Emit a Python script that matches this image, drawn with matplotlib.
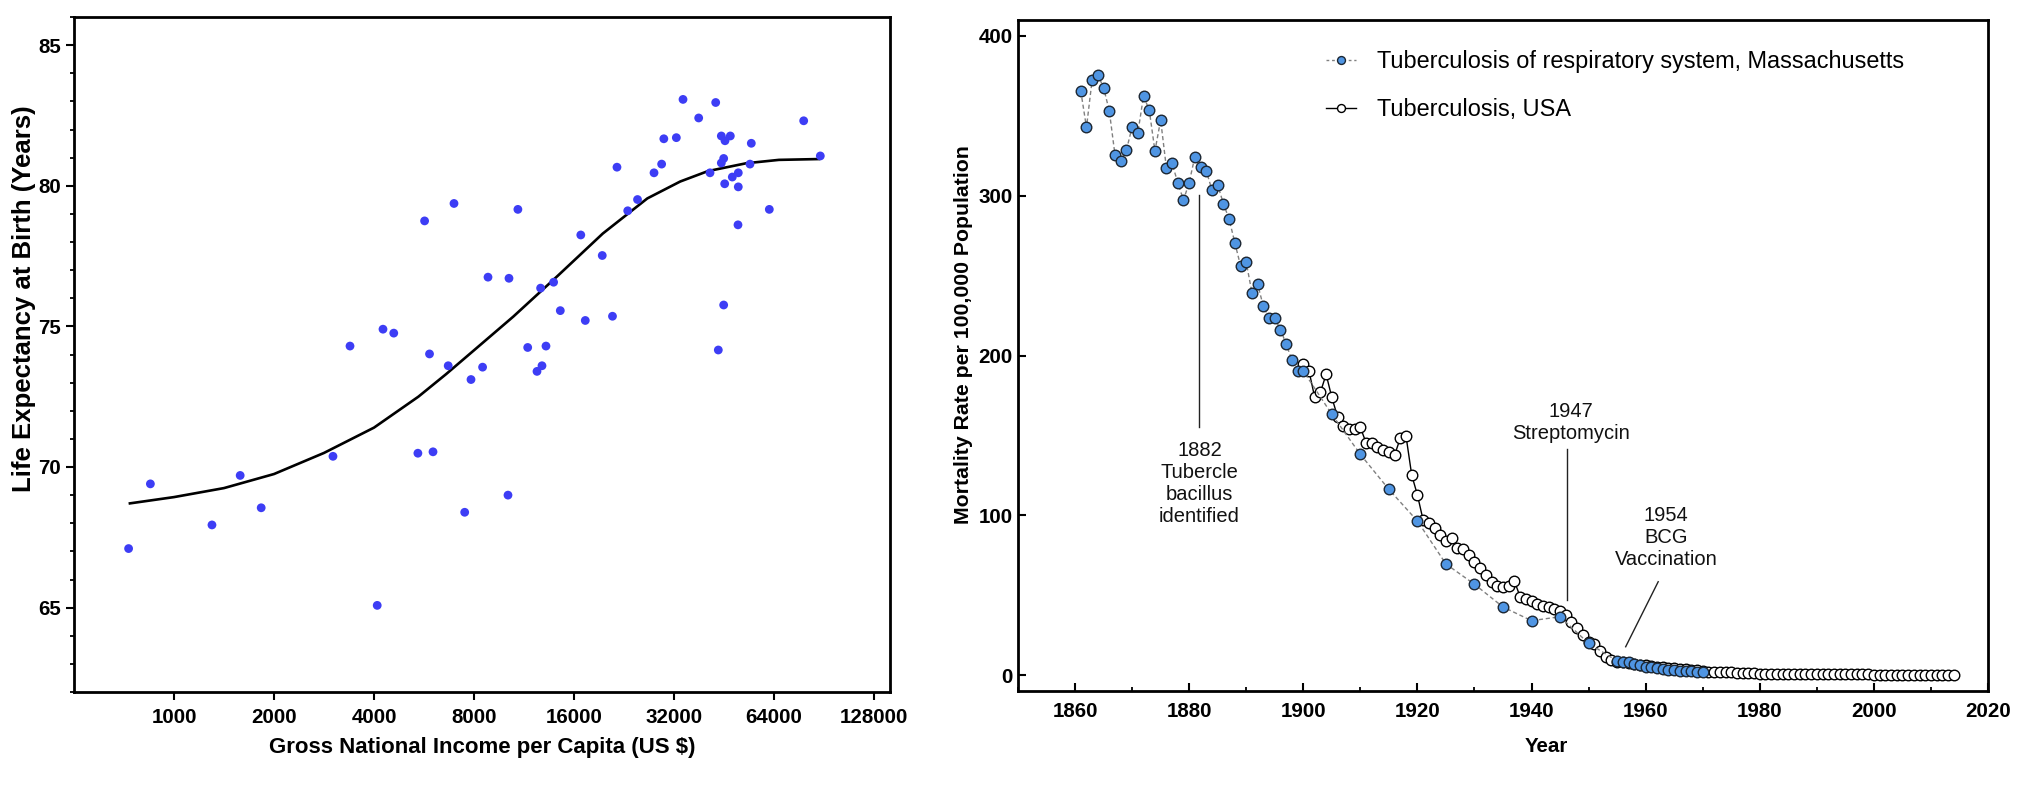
import matplotlib
matplotlib.use("Agg")
import matplotlib.pyplot as plt
from matplotlib.ticker import FixedLocator, MultipleLocator, NullLocator
from matplotlib.lines import Line2D

plt.rcParams['font.family'] = ['Liberation Sans', 'DejaVu Sans']

# ---------------- Left panel data ----------------
gni = [730, 849, 1301, 1582, 1830, 3010, 4090, 5422, 6021, 7500, 10125,
       3387, 4257, 4587, 5680, 5877, 6690, 6964, 7835, 8490, 8815, 10195,
       10844, 11607, 12380, 12815, 13175, 12693, 13890, 14550, 16770, 17300,
       19460, 20890, 21550, 23220, 24850, 27860, 29370, 29820, 32520, 34060,
       37970, 42720, 41070, 44420, 45570, 47280, 45150, 44420, 45470, 47930,
       49960, 49960, 54180, 54680, 49860, 45150, 43500, 61950, 78620, 88220]
life_exp = [67.10, 69.40, 67.94, 69.70, 68.55, 70.38, 65.08, 70.49, 70.54, 68.39, 69.00,
            74.30, 74.90, 74.76, 78.75, 74.02, 73.60, 79.37, 73.11, 73.55, 76.75, 76.71,
            79.16, 74.25, 73.40, 73.60, 74.30, 76.36, 76.57, 75.56, 78.25, 75.21,
            77.52, 75.36, 80.66, 79.11, 79.51, 80.46, 80.77, 81.67, 81.71, 83.07,
            82.41, 82.96, 80.46, 81.77, 81.60, 81.77, 80.97, 80.81, 80.07, 80.31,
            80.46, 79.96, 80.77, 81.51, 78.61, 75.76, 74.16, 79.16, 82.31, 81.06]

fit_gni = [730, 1000, 1414, 2000, 2828, 4000, 5440, 6590, 8000, 10510,
           14300, 19530, 26600, 33400, 40460, 52800, 66200, 88200]
fit_le = [68.70, 68.93, 69.25, 69.75, 70.50, 71.40, 72.50, 73.30, 74.15, 75.35,
          76.80, 78.30, 79.55, 80.15, 80.52, 80.80, 80.92, 80.95]

gni_ticks = [1000, 2000, 4000, 8000, 16000, 32000, 64000, 128000]
le_ticks = [65, 70, 75, 80, 85]

# ---------------- Right panel data ----------------
ma_years = list(range(1861, 1901)) + [1905, 1910, 1915, 1920, 1925, 1930, 1935,
                                      1940, 1945, 1950] + list(range(1955, 1971))
ma_rate = [365.6, 342.8, 372.7, 375.6, 367.6, 353.1, 325.5, 322.0, 328.6, 343.0,
           339.3, 362.4, 353.7, 328.0, 347.4, 317.6, 320.3, 308.2, 297.3, 308.2,
           324.5, 317.8, 315.7, 303.4, 306.7, 295.0, 285.4, 270.6, 256.2, 258.3,
           239.3, 244.6, 230.8, 223.3, 223.3, 216.2, 207.2, 197.2, 190.3, 190.3,
           163.2, 138.1, 116.2, 96.4, 69.5, 56.8, 42.6, 34.0, 36.5, 19.8,
           8.8, 8.4, 7.9, 6.9, 6.3, 5.2, 4.8, 4.4, 3.8, 3.3, 3.1, 2.7, 2.5, 2.3, 2.1, 2.1]

usa_years = list(range(1900, 2015))
usa_rate = [194.5, 190.3, 173.8, 177.0, 188.2, 173.8, 161.7, 156.1, 154.0, 154.0,
            155.0, 145.4, 145.4, 142.9, 140.8, 139.4, 137.7, 148.2, 149.6, 125.2,
            112.7, 97.0, 95.0, 91.8, 87.6, 84.1, 85.6, 79.3, 78.7, 75.1,
            70.9, 66.8, 62.6, 58.4, 55.7, 55.3, 55.7, 58.8, 49.0, 47.4,
            46.5, 44.4, 43.2, 42.4, 41.3, 40.3, 37.6, 33.0, 29.2, 25.0,
            20.9, 19.2, 15.0, 11.5, 9.4, 8.4, 7.9, 7.5, 7.1, 6.5,
            6.1, 5.4, 5.1, 4.9, 4.3, 4.1, 3.9, 3.5, 3.1, 2.9,
            2.6, 2.2, 2.0, 1.8, 1.7, 1.6, 1.4, 1.3, 1.3, 1.0,
            0.9, 0.9, 0.8, 0.8, 0.7, 0.7, 0.7, 0.7, 0.8, 0.7,
            0.7, 0.7, 0.7, 0.6, 0.6, 0.5, 0.5, 0.4, 0.4, 0.4,
            0.3, 0.3, 0.3, 0.3, 0.2, 0.2, 0.2, 0.2, 0.2, 0.2,
            0.2, 0.2, 0.2, 0.2, 0.2]

year_ticks = [1860, 1880, 1900, 1920, 1940, 1960, 1980, 2000, 2020]
rate_ticks = [0, 100, 200, 300, 400]

ann_labels = ["1882\nTubercle\nbacillus\nidentified", "1947\nStreptomycin",
              "1954\nBCG\nVaccination"]

# ---------------- Figure ----------------
W, H = 2036, 800
fig = plt.figure(figsize=(W / 100, H / 100), dpi=100)

def px_axes(l, t, r, b):
    return fig.add_axes([l / W, 1 - b / H, (r - l) / W, (b - t) / H])

TICK_FS = 14.8

# Left panel
ax1 = px_axes(74, 17, 890, 692)
ax1.scatter(gni, life_exp, s=40, color='#3d3df5', edgecolors='none', zorder=3)
ax1.plot(fit_gni, fit_le, color='black', lw=1.9, zorder=2, solid_capstyle='butt',
         solid_joinstyle='round')
ax1.set_xscale('log', base=2)
ax1.set_xlim(500, 143000)
ax1.set_ylim(62, 86)
ax1.xaxis.set_major_locator(FixedLocator(gni_ticks))
ax1.xaxis.set_minor_locator(NullLocator())
ax1.set_xticklabels([str(t) for t in gni_ticks])
ax1.yaxis.set_major_locator(FixedLocator(le_ticks))
ax1.yaxis.set_minor_locator(MultipleLocator(1))
ax1.tick_params(axis='both', which='major', direction='out', length=5.5, width=1.5,
                labelsize=TICK_FS, pad=4)
ax1.tick_params(axis='y', which='minor', direction='out', length=3, width=1.3)
ax1.tick_params(axis='x', which='major', pad=6)
for lab in ax1.get_xticklabels() + ax1.get_yticklabels():
    lab.set_fontweight('bold')
for sp in ax1.spines.values():
    sp.set_linewidth(2.0)
ax1.set_xlabel('Gross National Income per Capita (US $)', fontsize=16, fontweight='bold')
ax1.set_ylabel('Life Expectancy at Birth (Years)', fontsize=18.5, fontweight='bold')
ax1.xaxis.set_label_coords(0.5, -0.066)
ax1.yaxis.set_label_coords(-0.047, 0.582)

# Right panel
ax2 = px_axes(1018, 20, 1988, 691)
ax2.plot(usa_years, usa_rate, color='black', lw=1.0, ls='-', marker='o', ms=7.6,
         mfc='white', mec='black', mew=1.0, zorder=3)
ax2.plot(ma_years, ma_rate, color='#808080', lw=1.0, ls=(0, (3, 2)), marker='o', ms=7.6,
         mfc='#4f95e3', mec='#1c2733', mew=1.0, zorder=4)
ax2.set_xlim(1850, 2020)
ax2.set_ylim(-10, 410)
ax2.xaxis.set_major_locator(FixedLocator(year_ticks))
ax2.xaxis.set_minor_locator(MultipleLocator(10))
ax2.yaxis.set_major_locator(FixedLocator(rate_ticks))
ax2.yaxis.set_minor_locator(NullLocator())
ax2.tick_params(axis='both', which='major', direction='in', length=5.5, width=1.5,
                labelsize=TICK_FS)
ax2.tick_params(axis='x', which='major', pad=8)
ax2.tick_params(axis='y', which='major', pad=4)
ax2.tick_params(axis='x', which='minor', direction='in', length=3, width=1.3)
for lab in ax2.get_xticklabels() + ax2.get_yticklabels():
    lab.set_fontweight('bold')
for sp in ax2.spines.values():
    sp.set_linewidth(2.0)
ax2.set_xlabel('Year', fontsize=14.8, fontweight='bold')
ax2.set_ylabel('Mortality Rate per 100,000 Population', fontsize=15.3, fontweight='bold')
ax2.xaxis.set_label_coords(0.545, -0.069)
ax2.yaxis.set_label_coords(-0.046, 0.531)

# Annotations
ANN_FS = 14.5
ax2.plot([1881.8, 1881.8], [155.4, 300.5], color='#222222', lw=1.0)
ax2.text(1881.8, 119.7, ann_labels[0], ha='center', va='center', fontsize=ANN_FS,
         linespacing=1.2, color='#111111')
ax2.plot([1946.2, 1946.2], [47, 141.3], color='#222222', lw=1.0)
ax2.text(1946.85, 158.3, ann_labels[1], ha='center', va='center', fontsize=ANN_FS,
         linespacing=1.2, color='#111111')
ax2.plot([1962.2, 1956.5], [58.4, 17.7], color='#222222', lw=1.0)
ax2.text(1963.6, 85.9, ann_labels[2], ha='center', va='center', fontsize=ANN_FS,
         linespacing=1.2, color='#111111')

# Legend
h_ma = Line2D([], [], color='#808080', lw=1.0, ls=(0, (2, 2)), marker='o', ms=7.6,
              mfc='#4f95e3', mec='#1c2733', mew=1.0)
h_us = Line2D([], [], color='black', lw=1.0, ls='-', marker='o', ms=7.6,
              mfc='white', mec='black', mew=1.0)
ax2.legend([h_ma, h_us], ['Tuberculosis of respiratory system, Massachusetts',
                          'Tuberculosis, USA'],
           loc='upper left', bbox_to_anchor=(0.3175, 0.955), frameon=False,
           fontsize=16.9, handlelength=1.28, handletextpad=0.9, labelspacing=1.06,
           borderpad=0, borderaxespad=0, markerscale=0.75)

fig.savefig('out.png', dpi=100)
